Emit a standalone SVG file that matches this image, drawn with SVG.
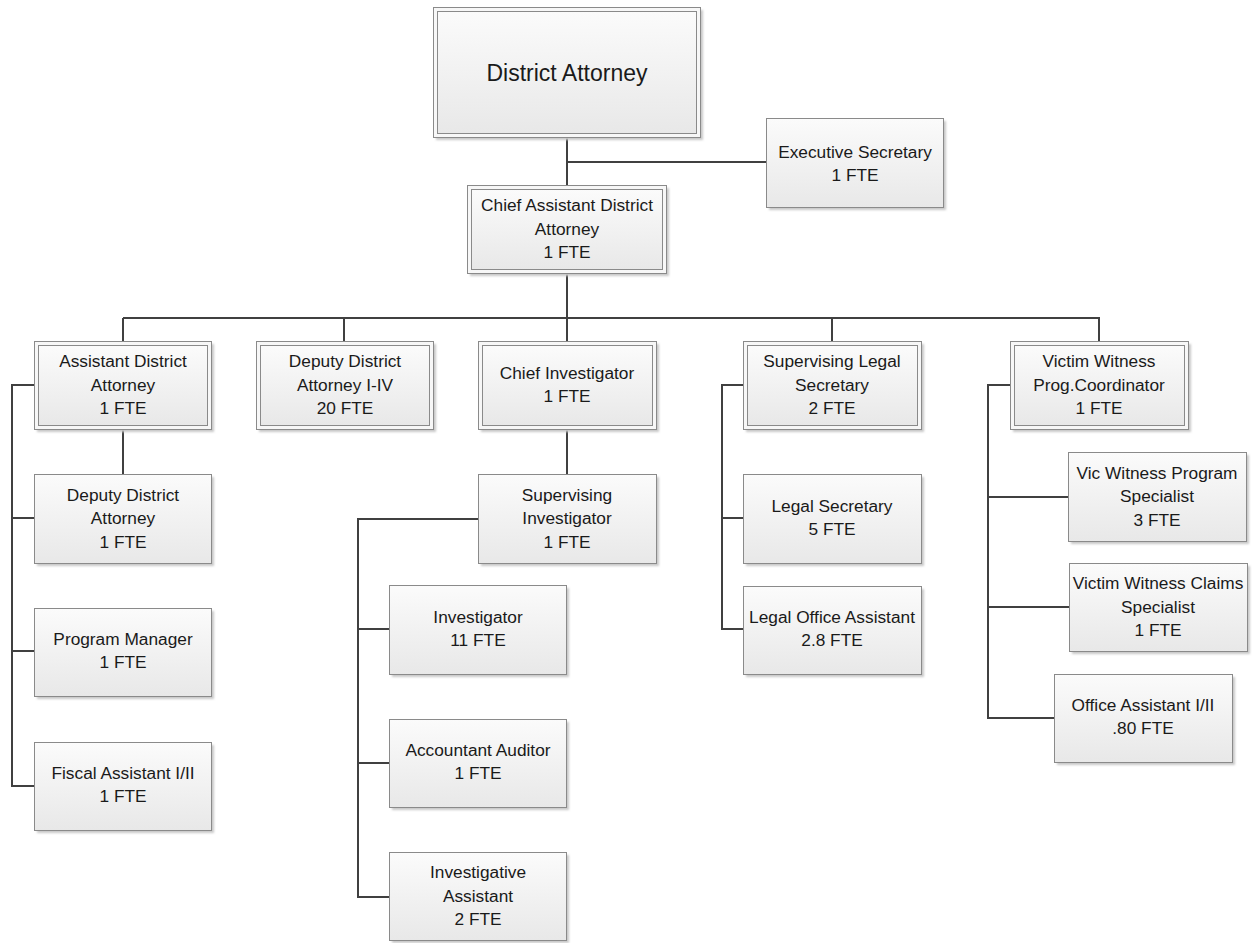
<svg xmlns="http://www.w3.org/2000/svg" width="1257" height="943" viewBox="0 0 1257 943">
<defs>
<linearGradient id="g" x1="0" y1="0" x2="0" y2="1">
<stop offset="0" stop-color="#fbfbfb"/>
<stop offset="1" stop-color="#e8e8e8"/>
</linearGradient>
<filter id="sh" x="-10%" y="-10%" width="130%" height="130%">
<feGaussianBlur stdDeviation="1.2"/>
</filter>
</defs>
<style>
.s{fill:#c8c8c8;filter:url(#sh)}
.b{fill:url(#g);stroke:#8a8a8a;stroke-width:1}
.o{fill:#f7f7f7;stroke:#8a8a8a;stroke-width:1}
.i{fill:url(#g);stroke:#8a8a8a;stroke-width:1}
text{font-family:"Liberation Sans",Arial,sans-serif;font-size:17.3px;fill:#1a1a1a;text-anchor:middle}
.big{font-size:23px}
.c{fill:none;stroke:#404040;stroke-width:2}
</style>
<rect width="1257" height="943" fill="#ffffff"/>
<g id="connectors">
<path class="c" d="M567,137V185M567,162H766M567,273V318M123,318H1100M123,318V341M344,318V341M567,318V341M832,318V341M1099,318V341"/>
<path class="c" d="M123,429V474M34,385H12V786H34M12,518H34M12,651H34"/>
<path class="c" d="M567,429V474M478,519H358V897H389M358,629H389M358,763H389"/>
<path class="c" d="M743,385H722V629H743M722,518H743"/>
<path class="c" d="M1010,385H988V718H1054M988,497H1068M988,607H1069"/>
</g>
<g id="da">
<rect class="s" x="436" y="10" width="267" height="130"/>
<rect class="o" x="433.5" y="7.5" width="267" height="130"/>
<rect class="i" x="437.5" y="11.5" width="259" height="122"/>
<text class="big" x="567" y="81">District Attorney</text>
</g>
<g id="exec">
<rect class="s" x="769" y="121" width="177" height="89"/>
<rect class="b" x="766.5" y="118.5" width="177" height="89"/>
<text x="855" y="158">Executive Secretary</text>
<text x="855" y="181">1 FTE</text>
</g>
<g id="chief">
<rect class="s" x="470" y="188" width="199" height="88"/>
<rect class="o" x="467.5" y="185.5" width="199" height="88"/>
<rect class="i" x="471.5" y="189.5" width="191" height="80"/>
<text x="567" y="211">Chief Assistant District</text>
<text x="567" y="235">Attorney</text>
<text x="567" y="258">1 FTE</text>
</g>
<g id="ada">
<rect class="s" x="37" y="344" width="177" height="88"/>
<rect class="o" x="34.5" y="341.5" width="177" height="88"/>
<rect class="i" x="38.5" y="345.5" width="169" height="80"/>
<text x="123" y="367">Assistant District</text>
<text x="123" y="391">Attorney</text>
<text x="123" y="414">1 FTE</text>
</g>
<g id="ddaiv">
<rect class="s" x="259" y="344" width="177" height="88"/>
<rect class="o" x="256.5" y="341.5" width="177" height="88"/>
<rect class="i" x="260.5" y="345.5" width="169" height="80"/>
<text x="345" y="367">Deputy District</text>
<text x="345" y="391">Attorney I-IV</text>
<text x="345" y="414">20 FTE</text>
</g>
<g id="chiefinv">
<rect class="s" x="481" y="344" width="178" height="88"/>
<rect class="o" x="478.5" y="341.5" width="178" height="88"/>
<rect class="i" x="482.5" y="345.5" width="170" height="80"/>
<text x="567" y="379">Chief Investigator</text>
<text x="567" y="402">1 FTE</text>
</g>
<g id="sls">
<rect class="s" x="746" y="344" width="178" height="88"/>
<rect class="o" x="743.5" y="341.5" width="178" height="88"/>
<rect class="i" x="747.5" y="345.5" width="170" height="80"/>
<text x="832" y="367">Supervising Legal</text>
<text x="832" y="391">Secretary</text>
<text x="832" y="414">2 FTE</text>
</g>
<g id="vwpc">
<rect class="s" x="1013" y="344" width="178" height="88"/>
<rect class="o" x="1010.5" y="341.5" width="178" height="88"/>
<rect class="i" x="1014.5" y="345.5" width="170" height="80"/>
<text x="1099" y="367">Victim Witness</text>
<text x="1099" y="391">Prog.Coordinator</text>
<text x="1099" y="414">1 FTE</text>
</g>
<g id="dda">
<rect class="s" x="37" y="477" width="177" height="89"/>
<rect class="b" x="34.5" y="474.5" width="177" height="89"/>
<text x="123" y="501">Deputy District</text>
<text x="123" y="524">Attorney</text>
<text x="123" y="548">1 FTE</text>
</g>
<g id="pm">
<rect class="s" x="37" y="611" width="177" height="88"/>
<rect class="b" x="34.5" y="608.5" width="177" height="88"/>
<text x="123" y="645">Program Manager</text>
<text x="123" y="668">1 FTE</text>
</g>
<g id="fiscal">
<rect class="s" x="37" y="745" width="177" height="88"/>
<rect class="b" x="34.5" y="742.5" width="177" height="88"/>
<text x="123" y="779">Fiscal Assistant I/II</text>
<text x="123" y="802">1 FTE</text>
</g>
<g id="supinv">
<rect class="s" x="481" y="477" width="178" height="89"/>
<rect class="b" x="478.5" y="474.5" width="178" height="89"/>
<text x="567" y="501">Supervising</text>
<text x="567" y="524">Investigator</text>
<text x="567" y="548">1 FTE</text>
</g>
<g id="inv">
<rect class="s" x="392" y="588" width="177" height="89"/>
<rect class="b" x="389.5" y="585.5" width="177" height="89"/>
<text x="478" y="623">Investigator</text>
<text x="478" y="646">11 FTE</text>
</g>
<g id="acct">
<rect class="s" x="392" y="722" width="177" height="88"/>
<rect class="b" x="389.5" y="719.5" width="177" height="88"/>
<text x="478" y="756">Accountant Auditor</text>
<text x="478" y="779">1 FTE</text>
</g>
<g id="invasst">
<rect class="s" x="392" y="855" width="177" height="88"/>
<rect class="b" x="389.5" y="852.5" width="177" height="88"/>
<text x="478" y="878">Investigative</text>
<text x="478" y="902">Assistant</text>
<text x="478" y="925">2 FTE</text>
</g>
<g id="legsec">
<rect class="s" x="746" y="477" width="178" height="89"/>
<rect class="b" x="743.5" y="474.5" width="178" height="89"/>
<text x="832" y="512">Legal Secretary</text>
<text x="832" y="535">5 FTE</text>
</g>
<g id="loa">
<rect class="s" x="746" y="589" width="178" height="88"/>
<rect class="b" x="743.5" y="586.5" width="178" height="88"/>
<text x="832" y="623">Legal Office Assistant</text>
<text x="832" y="646">2.8 FTE</text>
</g>
<g id="vwps">
<rect class="s" x="1071" y="455" width="178" height="89"/>
<rect class="b" x="1068.5" y="452.5" width="178" height="89"/>
<text x="1157" y="479">Vic Witness Program</text>
<text x="1157" y="502">Specialist</text>
<text x="1157" y="526">3 FTE</text>
</g>
<g id="vwcs">
<rect class="s" x="1072" y="566" width="178" height="88"/>
<rect class="b" x="1069.5" y="563.5" width="178" height="88"/>
<text x="1158" y="589">Victim Witness Claims</text>
<text x="1158" y="613">Specialist</text>
<text x="1158" y="636">1 FTE</text>
</g>
<g id="oa">
<rect class="s" x="1057" y="677" width="178" height="88"/>
<rect class="b" x="1054.5" y="674.5" width="178" height="88"/>
<text x="1143" y="711">Office Assistant I/II</text>
<text x="1143" y="734">.80 FTE</text>
</g>
</svg>
